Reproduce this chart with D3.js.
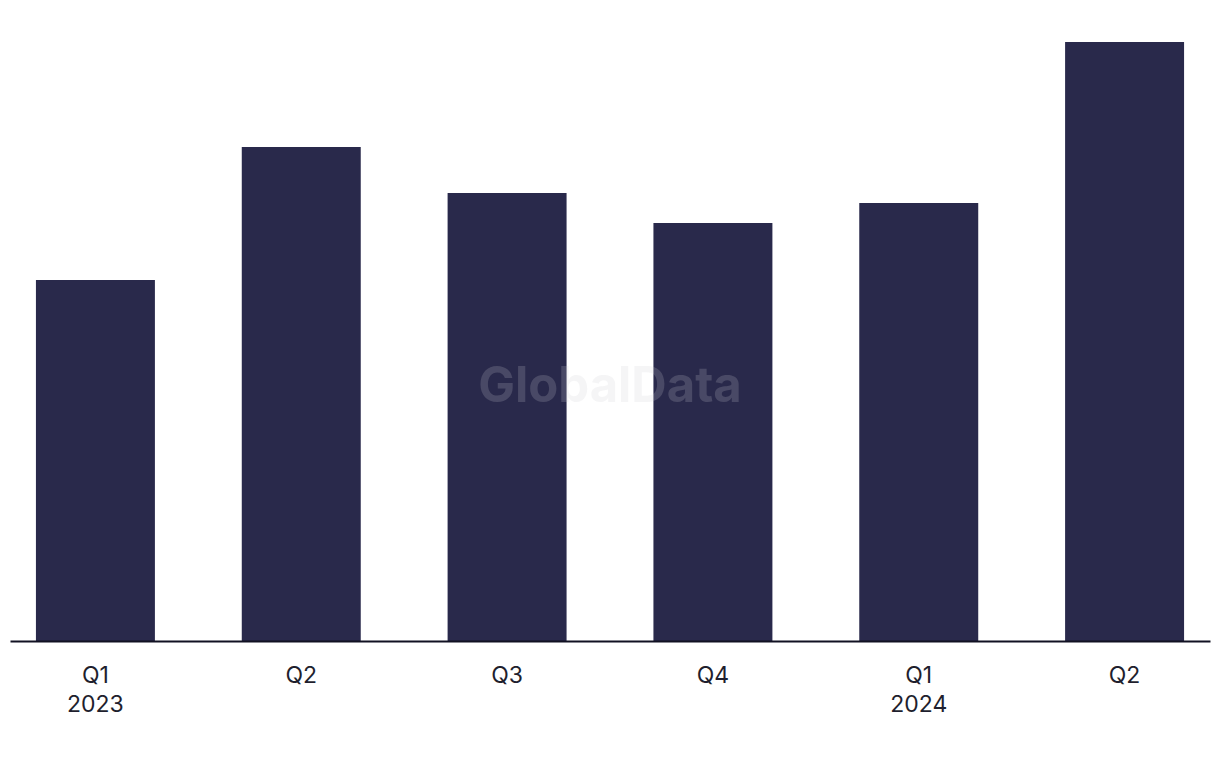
<!DOCTYPE html>
<html>
<head>
<meta charset="utf-8">
<script src="https://cdn.jsdelivr.net/npm/d3@7"></script>
<style>
  body { margin: 0; background: #fff; }
  svg { display: block; }
</style>
</head>
<body>
<script>
// quarters and values (relative units, no y axis shown)
var quarters = ["Q1 2023", "Q2 2023", "Q3 2023", "Q4 2023", "Q1 2024", "Q2 2024"];
var quarterLabels = ["Q1", "Q2", "Q3", "Q4", "Q1", "Q2"];
var yearLabels = ["2023", "", "", "", "2024", ""];
var values = [361, 494, 448, 418, 438, 599];

var width = 1220, height = 768;
var baseline = 641;

var svg = d3.select("body").append("svg").attr("width", width).attr("height", height);

var x = d3.scaleBand()
    .domain(quarters)
    .range([10, 1210])
    .paddingInner(0.422)
    .paddingOuter(0.126);

var y = d3.scaleLinear()
    .domain([0, 600])
    .range([baseline, 41]);

svg.append("g").selectAll("rect")
    .data(values)
  .enter().append("rect")
    .attr("x", function(d, i) { return x(quarters[i]); })
    .attr("y", function(d) { return y(d); })
    .attr("width", x.bandwidth())
    .attr("height", function(d) { return y(0) - y(d); })
    .attr("fill", "#29294b");

// watermark
svg.append("text")
    .attr("x", 610).attr("y", 402)
    .attr("text-anchor", "middle")
    .attr("font-family", "Inter, 'Liberation Sans', sans-serif")
    .attr("font-weight", "bold")
    .attr("font-size", 49)
    .attr("fill", "rgb(205,205,212)")
    .attr("fill-opacity", 0.2)
    .text("GlobalData");

var xAxis = d3.axisBottom(x).tickSize(0).tickFormat(function(d, i) { return quarterLabels[i]; });

var axis = svg.append("g")
    .attr("transform", "translate(0," + baseline + ")")
    .call(xAxis);

axis.select(".domain").attr("stroke", "#111122").attr("stroke-width", 2);
axis.selectAll(".tick text")
    .attr("y", 0).attr("dy", null)
    .attr("font-family", "Inter, 'Liberation Sans', sans-serif")
    .attr("font-size", 23)
    .attr("fill", "#1f1f2e")
    .each(function(d, i) {
      var t = d3.select(this).text(null);
      t.append("tspan").attr("x", 0).attr("y", 42).text(quarterLabels[i]);
      if (yearLabels[i]) t.append("tspan").attr("x", 0).attr("y", 71).text(yearLabels[i]);
    });
</script>
</body>
</html>
